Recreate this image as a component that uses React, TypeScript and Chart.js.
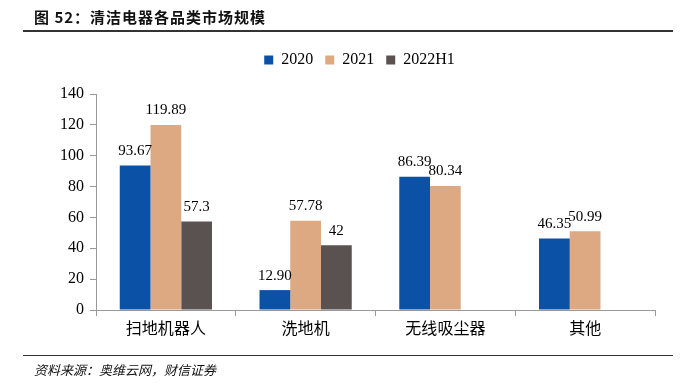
import React, { useEffect, useRef } from "react";
import { Chart, registerables } from "chart.js";

Chart.register(...registerables);

const categories = ["扫地机器人", "洗地机", "无线吸尘器", "其他"];
const seriesNames = ["2020", "2021", "2022H1"];
const values2020 = [93.67, 12.9, 86.39, 46.35];
const values2021 = [119.89, 57.78, 80.34, 50.99];
const values2022H1 = [57.3, 42, null, null];
const labels2020 = ["93.67", "12.90", "86.39", "46.35"];
const labels2021 = ["119.89", "57.78", "80.34", "50.99"];
const labels2022H1 = ["57.3", "42", "", ""];
const colors = ["#0B52A6", "#DDA983", "#5A5251"];
const yTicks = [0, 20, 40, 60, 80, 100, 120, 140];

const serif = "'Liberation Serif', 'Times New Roman', serif";
const cjk = "'Noto Sans CJK SC', sans-serif";

const valueLabelPlugin = {
  id: "valueLabels",
  afterDatasetsDraw(chart: any) {
    const ctx = chart.ctx;
    const all = [labels2020, labels2021, labels2022H1];
    ctx.save();
    ctx.font = `15px ${serif}`;
    ctx.fillStyle = "#000";
    ctx.textAlign = "center";
    ctx.textBaseline = "bottom";
    chart.data.datasets.forEach((ds: any, di: number) => {
      const meta = chart.getDatasetMeta(di);
      meta.data.forEach((bar: any, i: number) => {
        const txt = all[di][i];
        if (!txt || ds.data[i] == null) return;
        ctx.fillText(txt, bar.x, bar.y - 7);
      });
    });
    ctx.restore();
  },
};

// adds a gap under the legend and shifts it right, like the reference
const legendTweakPlugin = {
  id: "legendTweak",
  beforeLayout(chart: any) {
    const lg = chart.legend;
    if (lg && !lg.__patched) {
      const orig = lg.fit;
      lg.fit = function (this: any) {
        orig.call(this);
        this.height += 16;
      };
      lg.__patched = true;
    }
  },
  afterLayout(chart: any) {
    const lg = chart.legend;
    if (lg) {
      lg.left += 32;
      lg.right += 32;
    }
  },
};

export default function App() {
  const ref = useRef<HTMLCanvasElement>(null);
  useEffect(() => {
    document.body.style.margin = "0";
    const chart = new Chart(ref.current!, {
      type: "bar",
      data: {
        labels: categories,
        datasets: [
          { label: seriesNames[0], data: values2020, backgroundColor: colors[0] },
          { label: seriesNames[1], data: values2021, backgroundColor: colors[1] },
          { label: seriesNames[2], data: values2022H1 as any, backgroundColor: colors[2] },
        ],
      },
      options: {
        animation: false,
        responsive: false,
        devicePixelRatio: 1,
        layout: { padding: { left: 0, right: 39, top: 40, bottom: 43 } },
        datasets: { bar: { categoryPercentage: 0.66, barPercentage: 1 } },
        plugins: {
          legend: {
            display: true,
            position: "top",
            labels: {
              boxWidth: 9,
              boxHeight: 9,
              padding: 12,
              color: "#000",
              font: { family: serif, size: 16 },
            },
          },
          tooltip: { enabled: false },
        },
        scales: {
          x: {
            offset: true,
            grid: { display: true, drawOnChartArea: false, tickLength: 6, color: "#999", offset: true },
            border: { color: "#999" },
            ticks: { color: "#000", font: { family: cjk, size: 16 }, padding: 2 },
            afterFit(scale: any) { scale.height = 30; },
          },
          y: {
            min: 0,
            max: 140,
            afterBuildTicks(scale: any) { scale.ticks = yTicks.map((v) => ({ value: v })); },
            grid: { display: true, drawOnChartArea: false, tickLength: 6, color: "#999" },
            border: { color: "#999" },
            ticks: { color: "#000", font: { family: serif, size: 16 }, padding: 6 },
            afterFit(scale: any) { scale.width = 96; },
          },
        },
      } as any,
      plugins: [valueLabelPlugin, legendTweakPlugin],
    });
    return () => chart.destroy();
  }, []);

  return (
    <div style={{ position: "relative", width: 694, height: 383, background: "#fff", overflow: "hidden" }}>
      <canvas ref={ref} width={694} height={383} style={{ position: "absolute", left: 0, top: 0 }} />
      <div style={{ position: "absolute", left: 34, top: 6, fontFamily: cjk, fontWeight: "bold", fontSize: 15, color: "#111", letterSpacing: 1 }}>
        图 52：清洁电器各品类市场规模
      </div>
      <div style={{ position: "absolute", left: 23, top: 30, width: 650, height: 2, background: "#333" }} />
      <div style={{ position: "absolute", left: 23, top: 355, width: 650, height: 1, background: "#333" }} />
      <div style={{ position: "absolute", left: 34, top: 360, fontFamily: cjk, fontStyle: "italic", fontSize: 13, color: "#111" }}>
        资料来源：奥维云网，财信证券
      </div>
    </div>
  );
}
